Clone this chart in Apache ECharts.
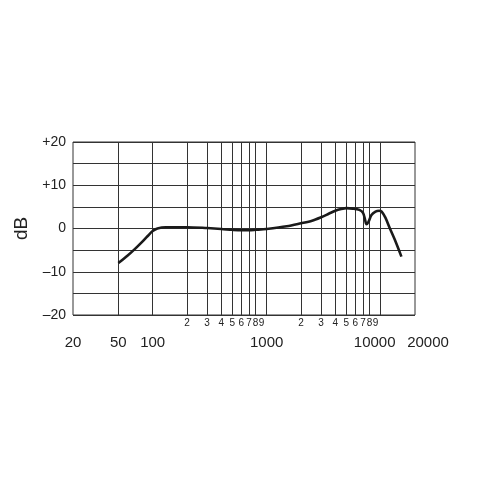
<!DOCTYPE html>
<html>
<head>
<meta charset="utf-8">
<script src="https://cdn.jsdelivr.net/npm/echarts@6/dist/echarts.min.js"></script>
<style>html,body{margin:0;padding:0;background:#fff;}#c{width:480px;height:480px;}</style>
</head>
<body>
<div id="c"></div>
<script>
// Frequency response data (Hz, dB)
const freq = [50, 60, 70, 80, 90, 100, 110, 130, 200, 300, 400, 500, 600, 700, 800, 1000, 1500, 2000, 2500, 3000, 3500, 4000, 4500, 5000, 5700, 6500, 7000, 7300, 7500, 7800, 8300, 9000, 9700, 10200, 11000, 12000, 13500, 15200];
const dB   = [-8.0, -6.3, -4.7, -3.2, -1.8, -0.6, 0.0, 0.3, 0.3, 0.1, -0.1, -0.3, -0.4, -0.4, -0.3, -0.1, 0.5, 1.2, 1.8, 2.6, 3.4, 4.1, 4.5, 4.7, 4.6, 4.3, 3.6, 2.0, 1.0, 1.5, 3.1, 3.9, 4.1, 3.9, 2.5, 0.1, -3.0, -6.5];

// Axis ticks and labels
const yTickValues = [-20, -10, 0, 10, 20];
const yTickLabels = ['\u201320', '\u201310', '0', '+10', '+20'];
const xMajorTicks = [20, 50, 100, 1000, 10000, 20000];
const xMajorLabels = ['20', '50', '100', '1000', '10000', '20000'];
const xMinorTicks = [200, 300, 400, 500, 600, 700, 800, 900, 2000, 3000, 4000, 5000, 6000, 7000, 8000, 9000];
const xMinorLabels = ['2', '3', '4', '5', '6', '7', '8', '9', '2', '3', '4', '5', '6', '7', '8', '9'];
const xGridLines = [50, 100, 200, 300, 400, 500, 600, 700, 800, 1000, 2000, 3000, 4000, 5000, 6000, 7000, 8000, 10000];

const FONT = 'Liberation Sans, Arial, sans-serif';
const majorOffsets = {10000: [-6, 0], 20000: [13, 0]};
const CLEAR = 'rgba(0,0,0,0)';

const chart = echarts.init(document.getElementById('c'), null, {renderer: 'canvas'});
const lineData = freq.map((f, i) => [f, dB[i]]);

const gridMarks = xGridLines.map(f => ({xAxis: f}));
const minorMarks = xMinorTicks.map((f, i) => ({
  xAxis: f,
  label: {show: true, position: 'start', formatter: xMinorLabels[i], distance: 3, fontSize: 10, color: '#222', fontFamily: FONT}
}));
const majorMarks = xMajorTicks.map((f, i) => ({
  xAxis: f,
  label: {show: true, position: 'start', formatter: xMajorLabels[i], distance: 20, fontSize: 15, color: '#222', fontFamily: FONT, offset: majorOffsets[f] || [0, 0]}
}));

chart.setOption({
  animation: false,
  backgroundColor: '#fff',
  grid: {left: 73, right: 65, top: 142, bottom: 165, show: true, borderColor: '#333', borderWidth: 1, backgroundColor: 'transparent'},
  xAxis: {
    type: 'log', logBase: 10, min: 20, max: 20000,
    axisLine: {show: false}, axisTick: {show: false}, axisLabel: {show: false},
    splitLine: {show: false}, minorSplitLine: {show: false}
  },
  yAxis: {
    type: 'value', min: -20, max: 20, interval: 5,
    name: 'dB', nameLocation: 'middle', nameRotate: 90, nameGap: 40,
    nameTextStyle: {fontSize: 19, color: '#222', fontFamily: FONT},
    axisLine: {show: false}, axisTick: {show: false},
    axisLabel: {
      margin: 7, fontSize: 14, color: '#222', fontFamily: FONT,
      formatter: v => { const k = yTickValues.indexOf(v); return k >= 0 ? yTickLabels[k] : ''; }
    },
    splitLine: {show: true, lineStyle: {color: '#333', width: 1}}
  },
  series: [
    {
      type: 'line', data: [], z: 1, silent: true,
      markLine: {silent: true, symbol: 'none', animation: false, label: {show: false},
        lineStyle: {color: '#333', width: 1, type: 'solid'}, data: gridMarks}
    },
    {
      type: 'line', data: [], z: 1, silent: true,
      markLine: {silent: true, symbol: 'none', animation: false,
        lineStyle: {color: CLEAR, width: 1, type: 'solid'}, data: minorMarks.concat(majorMarks)}
    },
    {
      type: 'line', data: lineData, z: 5, smooth: 0.3, showSymbol: false, symbol: 'none',
      lineStyle: {color: '#1a1a1a', width: 2.6}
    }
  ]
});
</script>
</body>
</html>
